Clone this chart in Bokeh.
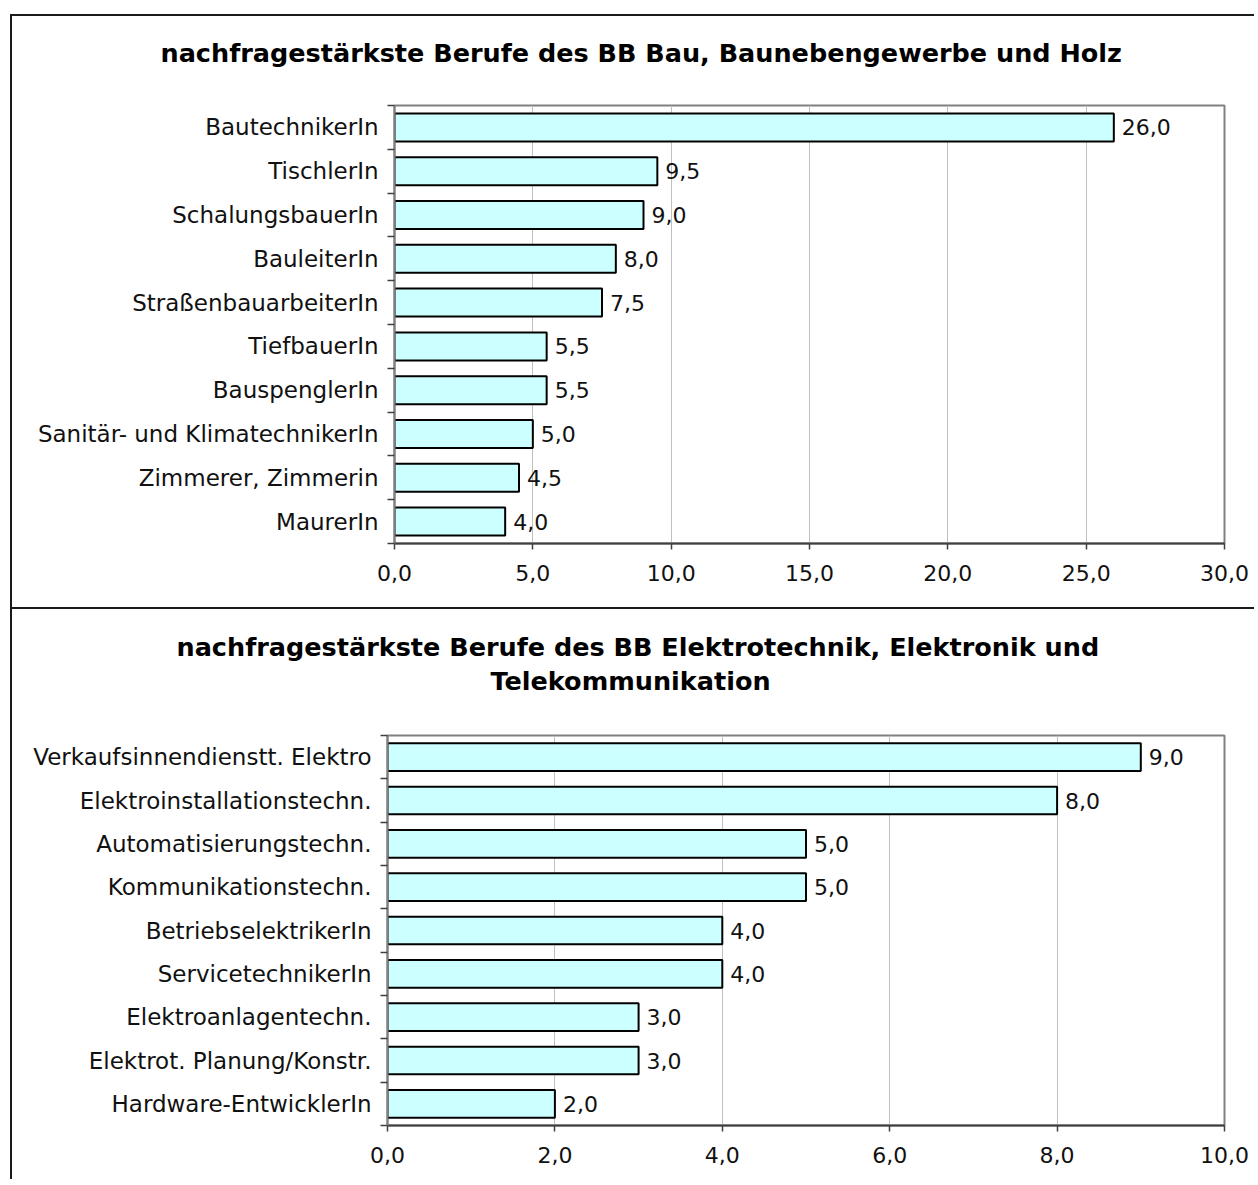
from bokeh.plotting import figure
from bokeh.models import Range1d, FixedTicker, Title, ColumnDataSource
from bokeh.core.properties import value
from bokeh.embed import file_html
from bokeh.resources import INLINE

# ---------------- data ----------------
bau_title = ["nachfragestärkste Berufe des BB Bau, Baunebengewerbe und Holz"]
bau_jobs = ["BautechnikerIn", "TischlerIn", "SchalungsbauerIn", "BauleiterIn",
            "StraßenbauarbeiterIn", "TiefbauerIn", "BauspenglerIn",
            "Sanitär- und KlimatechnikerIn", "Zimmerer, Zimmerin", "MaurerIn"]
bau_values = [26.0, 9.5, 9.0, 8.0, 7.5, 5.5, 5.5, 5.0, 4.5, 4.0]
bau_ticks = [0, 5, 10, 15, 20, 25, 30]

elektro_title = ["nachfragestärkste Berufe des BB Elektrotechnik, Elektronik und",
                 "Telekommunikation"]
elektro_jobs = ["Verkaufsinnendienstt. Elektro", "Elektroinstallationstechn.",
                "Automatisierungstechn.", "Kommunikationstechn.",
                "BetriebselektrikerIn", "ServicetechnikerIn",
                "Elektroanlagentechn.", "Elektrot. Planung/Konstr.",
                "Hardware-EntwicklerIn"]
elektro_values = [9.0, 8.0, 5.0, 5.0, 4.0, 4.0, 3.0, 3.0, 2.0]
elektro_ticks = [0, 2, 4, 6, 8, 10]

FONT = "DejaVu Sans"
LABEL_SIZE = "23px"
TICK_SIZE = "22px"
TITLE_SIZE = "25.5px"


def fmt(v):
    return f"{v:.1f}".replace(".", ",")


def make_chart(title_lines, title_offsets, title_standoffs, title_gap, jobs, values,
               ticks, width, height, mb_left, mb_right, mb_top, mb_bottom, margin):
    n = len(jobs)
    pos = [n - i for i in range(n)]
    p = figure(width=width, height=height,
               x_range=Range1d(ticks[0], ticks[-1]), y_range=Range1d(0.5, n + 0.5),
               output_backend="svg", toolbar_location=None, title=None,
               min_border_left=mb_left, min_border_right=mb_right,
               min_border_top=mb_top, min_border_bottom=mb_bottom)
    p.margin = margin
    p.styles = {"border-top": "2px solid #1a1a1a", "border-left": "2px solid #1a1a1a"}
    p.background_fill_color = "white"
    p.border_fill_color = "white"
    p.outline_line_color = "#808080"
    p.outline_line_width = 2

    src = ColumnDataSource(dict(pos=pos, v=values, lbl=[fmt(v) for v in values]))
    p.hbar(y="pos", left=0, right="v", height=0.64, source=src,
           fill_color="#CCFFFF", line_color="black", line_width=2)
    p.text(x="v", y="pos", text="lbl", source=src, x_offset=8,
           text_align="left", text_baseline="middle",
           text_font=value(FONT), text_font_size=TICK_SIZE, text_color="#111111")

    # x axis
    p.xaxis.ticker = FixedTicker(ticks=ticks)
    p.xaxis.major_label_overrides = {t: fmt(t) for t in ticks}
    p.xaxis.major_tick_out = 6
    p.xaxis.major_tick_in = 0
    p.xaxis.minor_tick_line_color = None
    p.xaxis.axis_line_color = "#404040"
    p.xaxis.axis_line_width = 2
    p.xaxis.major_tick_line_color = "#404040"
    p.xaxis.major_tick_line_width = 1.5
    p.xaxis.major_label_standoff = 15
    p.xaxis.major_label_text_font = FONT
    p.xaxis.major_label_text_font_size = TICK_SIZE
    p.xaxis.major_label_text_color = "#111111"

    # y axis: labels at category centres, tick marks at category boundaries
    p.yaxis.ticker = FixedTicker(ticks=pos, minor_ticks=[k + 0.5 for k in range(n + 1)])
    p.yaxis.major_label_overrides = {pp: j for pp, j in zip(pos, jobs)}
    p.yaxis.major_tick_out = 0
    p.yaxis.major_tick_in = 0
    p.yaxis.minor_tick_out = 7
    p.yaxis.minor_tick_in = 0
    p.yaxis.minor_tick_line_color = "#404040"
    p.yaxis.minor_tick_line_width = 1.5
    p.yaxis.axis_line_color = "#808080"
    p.yaxis.axis_line_width = 2
    p.yaxis.major_label_standoff = 9
    p.yaxis.major_label_text_font = FONT
    p.yaxis.major_label_text_font_size = LABEL_SIZE
    p.yaxis.major_label_text_color = "#111111"

    p.xgrid.ticker = FixedTicker(ticks=ticks)
    p.xgrid.grid_line_color = "#c0c0c0"
    p.xgrid.grid_line_width = 1
    p.ygrid.visible = False

    # empty spacer panel between the plot area and the title lines
    if title_gap > 0:
        p.add_layout(Title(text=" ", text_font_size="1px", standoff=title_gap,
                           text_color="white"), "above")
    # add title lines (first added is closest to the plot)
    for line, off, so in reversed(list(zip(title_lines, title_offsets, title_standoffs))):
        p.add_layout(Title(text=line, align="left", offset=off,
                           text_font=FONT, text_font_style="bold",
                           text_font_size=TITLE_SIZE, text_color="#000000",
                           standoff=so), "above")
    return p


p1 = make_chart(bau_title, [-234], [0], 35, bau_jobs, bau_values, bau_ticks,
                width=1244, height=593,
                mb_left=382, mb_right=32, mb_top=89, mb_bottom=66,
                margin=(14, 0, 0, 10))
p2 = make_chart(elektro_title, [-211, 103], [4, 0], 37, elektro_jobs, elektro_values,
                elektro_ticks,
                width=1244, height=572,
                mb_left=375, mb_right=32, mb_top=126, mb_bottom=56,
                margin=(0, 0, 0, 10))

open("out.html", "w").write(file_html([p1, p2], INLINE))
